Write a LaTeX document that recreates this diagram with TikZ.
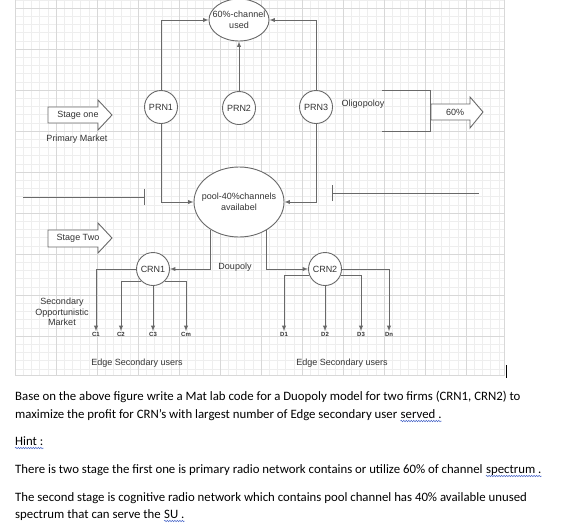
\documentclass[tikz,border=0pt]{standalone}
\usepackage{fontspec}
\setmainfont{Carlito}
\newfontfamily\diagfont{Liberation Sans}
\usepackage{xcolor}
\usetikzlibrary{
	shapes.geometric,   %ellipse
	arrows.meta,        %Bar, Latex
	positioning,
	calc,
	decorations.pathmorphing  %wavy underline
}
\definecolor{linegray}{RGB}{105,105,105}
\definecolor{txtgray}{RGB}{51,51,51}
\definecolor{gridminor}{RGB}{238,238,238}
\definecolor{gridmajor}{RGB}{216,216,216}
\definecolor{wavecol}{RGB}{70,100,200}
\tikzset{
	every picture/.style={
		>=latex,
		x=1pt, y=-1pt
}}
\tikzset{
	conn/.style={draw=linegray, line width=0.9pt},
	diagtxt/.style={font=\diagfont\fontsize{9}{11}\selectfont, text=txtgray, inner sep=1pt},
	netnode/.style={circle, draw=linegray, line width=0.9pt, fill=white, inner sep=0pt,
		minimum size=33pt, font=\diagfont\fontsize{9}{10}\selectfont, text=txtgray},
	chanell/.style={ellipse, draw=linegray, line width=0.9pt, fill=white, inner sep=0pt},
	userlab/.style={font=\diagfont\bfseries\fontsize{6}{7}\selectfont, text=txtgray, inner sep=0.5pt},
	blockarrow/.style={draw=linegray, line width=0.9pt, fill=white},
	bodytext/.style={anchor=base west, inner sep=0pt, font=\fontsize{12.8}{15}\selectfont},
	squiggle/.style={draw=wavecol, line width=0.5pt, decorate,
		decoration={snake, amplitude=0.7pt, segment length=2.5pt}}
}

\begin{document}
\begin{tikzpicture}
\useasboundingbox (0,0) rectangle (569,525);
\fill[white] (0,0) rectangle (569,525);
% background grid
\foreach \i in {0,...,59}
	\draw[gridminor, line width=0.6pt] ({15+8.2*\i},0) -- ({15+8.2*\i},375);
\foreach \j in {0,...,45}
	\draw[gridminor, line width=0.6pt] (15,{-0.2+8.2*\j}) -- (504,{-0.2+8.2*\j});
\foreach \i in {0,...,11}
	\draw[gridmajor, line width=0.6pt] ({15+41*\i},0) -- ({15+41*\i},375);
\foreach \j in {0,...,8}
	\draw[gridmajor, line width=0.6pt] (15,{8+41*\j}) -- (504,{8+41*\j});
\draw[gridmajor, line width=0.8pt] (15,0) -- (15,375) -- (504,375) -- (504,0);

% stage one
\node[chanell, minimum width=60pt, minimum height=42pt,
	label={[diagtxt, align=center]center:60\%-channel\\used}] (chan) at (239,20) {};
\node[netnode] (prn1) at (161,107) {PRN1};
\node[netnode] (prn2) at (239,108) {PRN2};
\node[netnode] (prn3) at (316,107) {PRN3};
\draw[conn,->] (prn1) |- (chan);
\draw[conn,->] (prn3) |- (chan);
\draw[conn,->] (prn2) -- (chan);

\draw[blockarrow] (48,107) -- (98,107) -- (98,100) -- (112,115) -- (98,130) -- (98,123) -- (48,123) -- cycle;
\node[diagtxt] (stage1) at (78,115) {Stage one};
\node[diagtxt] (primary) at (77,139) {Primary Market};
\node[diagtxt] (oligo) at (363,104) {Oligopoloy};
\draw[conn] (382,90) -| (430,131) -- (382,131);
\draw[blockarrow] (431,104) -- (470,104) -- (470,97) -- (483,112) -- (470,128) -- (470,120) -- (431,120) -- cycle;
\node[diagtxt] (share) at (455,112) {60\%};

% pool and stage two
\node[chanell, minimum width=90pt, minimum height=70pt,
	label={[diagtxt, align=center]center:pool-40\%channels\\availabel}] (pool) at (239,202) {};
\draw[conn,->] (prn1) |- (pool);
\draw[conn,->] (prn3) |- (pool);
\draw[conn,-{Bar[width=16pt]}] (23,197) -- (145,197);
\draw[conn,{Bar[width=16pt]}-] (332,193) -- (479,193);

\draw[blockarrow] (48,230) -- (98,230) -- (98,223) -- (112,238) -- (98,253) -- (98,247) -- (48,247) -- cycle;
\node[diagtxt] (stage2) at (78,238) {Stage Two};

\node[netnode] (crn1) at (153,269) {CRN1};
\node[netnode] (crn2) at (325,269) {CRN2};
\draw[conn,->] (pool.224) |- (crn1);
\draw[conn,->] (pool.314) |- (crn2);
\node[diagtxt] (duo) at (235,267) {Doupoly};

% edge secondary users
\node[userlab] (c1) at (96,334) {C1};
\node[userlab] (c2) at (121,334) {C2};
\node[userlab] (c3) at (153,334) {C3};
\node[userlab] (cm) at (186,334) {Cm};
\node[userlab] (d1) at (284,334) {D1};
\node[userlab] (d2) at (325,334) {D2};
\node[userlab] (d3) at (361,334) {D3};
\node[userlab] (dn) at (389,334) {Dn};
\draw[conn,->] (crn1.west) -| (c1);
\draw[conn,->] (crn1.227) -| (c2);
\draw[conn,->] (crn1) -- (c3);
\draw[conn,->] (crn1.313) -| (cm);
\draw[conn,->] (crn2.202) -| (d1);
\draw[conn,->] (crn2) -- (d2);
\draw[conn,->] (crn2.338) -| (d3);
\draw[conn,->] (crn2.east) -| (dn);

\node[diagtxt, align=center, font=\diagfont\fontsize{9}{10.5}\selectfont] (secmkt) at (62,312) {Secondary\\Opportunistic\\Market};
\node[diagtxt] (edge1) at (137,363) {Edge Secondary users};
\node[diagtxt] (edge2) at (342,363) {Edge Secondary users};
\draw[black, line width=0.8pt] (506,365) -- (506,378);

% question text
\node[bodytext] (line1) at (15,400) {Base on the above figure write a Mat lab code for a Duopoly model for two firms (CRN1, CRN2) to};
\node[bodytext] (line2) at (15,418) {maximize the profit for CRN’s with largest number of Edge secondary user};
\node[bodytext] (served) at ($(line2.base east)+(3,0)$) {served .};
\node[bodytext] (hint) at (15,445) {Hint :};
\node[bodytext] (line3) at (15,473) {There is two stage the first one is primary radio network contains or utilize 60\% of channel};
\node[bodytext] (spec) at ($(line3.base east)+(3,0)$) {spectrum .};
\node[bodytext] (line4) at (15,501) {The second stage is cognitive radio network which contains pool channel has 40\% available unused};
\node[bodytext] (line5) at (15,518) {spectrum that can serve the};
\node[bodytext] (su) at ($(line5.base east)+(3,0)$) {SU .};
\foreach \w in {served, hint, spec, su}
	\draw[squiggle] ($(\w.base west)+(0,3)$) -- ($(\w.base east)+(0,3)$);
\end{tikzpicture}
\end{document}
